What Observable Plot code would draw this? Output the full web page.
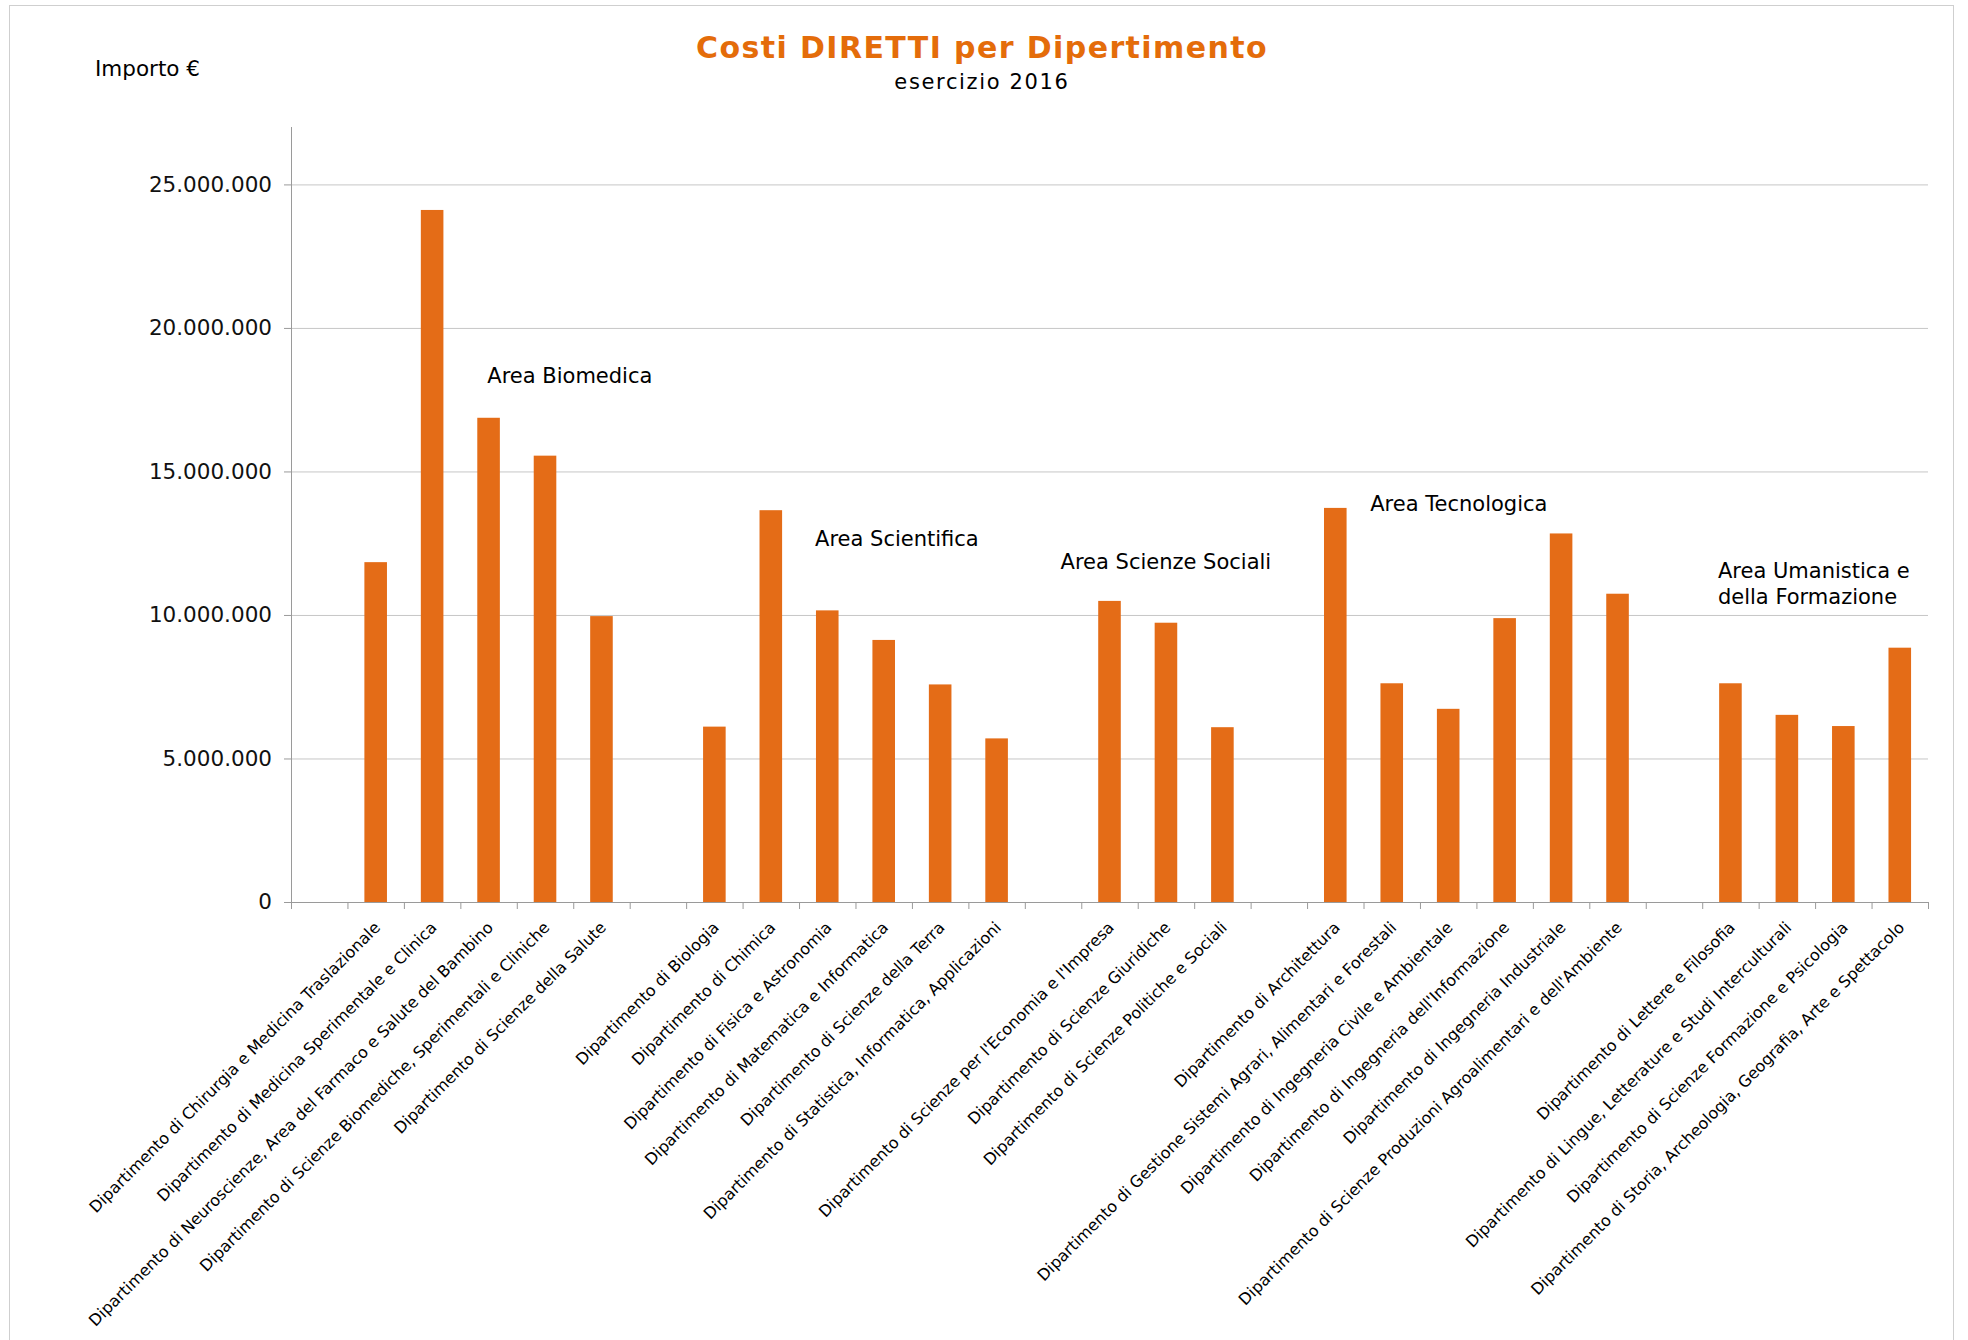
<!DOCTYPE html>
<html>
<head>
<meta charset="utf-8">
<script src="https://cdn.jsdelivr.net/npm/d3@7"></script>
<script src="https://cdn.jsdelivr.net/npm/@observablehq/plot@0.6"></script>
<style>
  html, body { margin: 0; padding: 0; background: #fff; }
  #page { position: relative; width: 1968px; height: 1340px; overflow: hidden; font-family: "DejaVu Sans", sans-serif; }
  #frame { position: absolute; left: 9px; top: 5px; width: 1945px; height: 1400px; border: 1px solid #cfcfcf; box-sizing: border-box; }
  .t { position: absolute; white-space: nowrap; }
  #title { left: 0; width: 1964px; text-align: center; top: 32.6px; font-size: 30px; line-height: 30px; font-weight: bold; letter-spacing: 1.4px; color: #E46C0A; }
  #subtitle { left: 0; width: 1964px; text-align: center; top: 71.5px; font-size: 21px; line-height: 21px; letter-spacing: 1.65px; color: #000; }
  #ylabel { left: 95px; top: 58px; font-size: 21.5px; line-height: 21.5px; color: #000; }
  #chart { position: absolute; left: 0; top: 100px; }
</style>
</head>
<body>
<div id="page">
  <div id="frame"></div>
  <div class="t" id="title">Costi DIRETTI per Dipertimento</div>
  <div class="t" id="subtitle">esercizio 2016</div>
  <div class="t" id="ylabel">Importo €</div>
  <div id="chart"></div>
</div>
<script>
// ---- data ----
const areaNames = [
  "Area Biomedica",
  "Area Scientifica",
  "Area Scienze Sociali",
  "Area Tecnologica",
  "Area Umanistica e\ndella Formazione"
];
const dipartimenti = [
  "Dipartimento di Chirurgia e Medicina Traslazionale",
  "Dipartimento di Medicina Sperimentale e Clinica",
  "Dipartimento di Neuroscienze, Area del Farmaco e Salute del Bambino",
  "Dipartimento di Scienze Biomediche, Sperimentali e Cliniche",
  "Dipartimento di Scienze della Salute",
  "Dipartimento di Biologia",
  "Dipartimento di Chimica",
  "Dipartimento di Fisica e Astronomia",
  "Dipartimento di Matematica e Informatica",
  "Dipartimento di Scienze della Terra",
  "Dipartimento di Statistica, Informatica, Applicazioni",
  "Dipartimento di Scienze per l'Economia e l'Impresa",
  "Dipartimento di Scienze Giuridiche",
  "Dipartimento di Scienze Politiche e Sociali",
  "Dipartimento di Architettura",
  "Dipartimento di Gestione Sistemi Agrari, Alimentari e Forestali",
  "Dipartimento di Ingegneria Civile e Ambientale",
  "Dipartimento di Ingegneria dell'Informazione",
  "Dipartimento di Ingegneria Industriale",
  "Dipartimento di Scienze Produzioni Agroalimentari e dell'Ambiente",
  "Dipartimento di Lettere e Filosofia",
  "Dipartimento di Lingue, Letterature e Studi Interculturali",
  "Dipartimento di Scienze Formazione e Psicologia",
  "Dipartimento di Storia, Archeologia, Geografia, Arte e Spettacolo"
];
const areaOfDip = [0,0,0,0,0, 1,1,1,1,1,1, 2,2,2, 3,3,3,3,3,3, 4,4,4,4];
const costi = [
  11840000, 24110000, 16870000, 15550000, 9960000,
  6110000, 13650000, 10160000, 9130000, 7580000, 5700000,
  10490000, 9730000, 6090000,
  13730000, 7620000, 6730000, 9890000, 12840000, 10740000,
  7620000, 6520000, 6130000, 8860000
];
const yTicks = [0, 5000000, 10000000, 15000000, 20000000, 25000000];
const yMax = 27000000;
// area label anchor department (label starts near that category) and value level
const areaLabelDip = [
  "Dipartimento di Neuroscienze, Area del Farmaco e Salute del Bambino",
  "Dipartimento di Fisica e Astronomia",
  "__gap2",
  "Dipartimento di Gestione Sistemi Agrari, Alimentari e Forestali",
  "Dipartimento di Lettere e Filosofia"
];
const areaLabelY = [18380000, 12710000, 11910000, 13930000, 11140000];

// ---- build ----
const domain = [];
areaNames.forEach((a, ai) => {
  domain.push("__gap" + ai);
  dipartimenti.forEach((d, i) => { if (areaOfDip[i] === ai) domain.push(d); });
});
const rows = dipartimenti.map((d, i) => ({dip: d, costo: costi[i]}));

const W = 1968, H = 1240, mL = 291, mR = 40, mT = 27, mB = 438;
const step = (W - mL - mR) / domain.length;
const orange = "#E46C17";
const fmt = d3.formatLocale({decimal: ",", thousands: ".", grouping: [3], currency: ["€", ""]}).format(",.0f");
const areaDx = [-1.75, -12.7, 7, -22, -13];

const plot = Plot.plot({
  width: W, height: H,
  marginLeft: mL, marginRight: mR, marginTop: mT, marginBottom: mB,
  style: {fontFamily: "DejaVu Sans", background: "transparent", color: "#000"},
  x: {type: "band", domain, paddingInner: 0.6, paddingOuter: 0.3, align: 0.5, round: false, axis: null},
  y: {domain: [0, yMax], axis: null},
  marks: [
    Plot.gridY(yTicks, {stroke: "#c6c6c6", strokeOpacity: 1}),
    Plot.barY(rows, {x: "dip", y: "costo", fill: orange}),
    // axis lines and category-boundary ticks
    Plot.ruleY([0], {stroke: "#9a9a9a"}),
    Plot.ruleX([domain[0]], {x: d => d, dx: -step / 2, y1: 0, y2: yMax, stroke: "#9a9a9a"}),
    Plot.ruleX(domain, {x: d => d, dx: -step / 2, y1: 0, y2: 0, insetBottom: -7, stroke: "#9a9a9a"}),
    Plot.ruleX([domain[domain.length - 1]], {x: d => d, dx: step / 2, y1: 0, y2: 0, insetBottom: -7, stroke: "#9a9a9a"}),
    Plot.axisY({ticks: yTicks, label: null, tickSize: 7, tickPadding: 12.5, fontSize: 21.5, tickFormat: fmt, stroke: "#9a9a9a", fill: "#111"}),
    // rotated category labels
    Plot.text(dipartimenti, {x: d => d, y: 0, text: d => d, rotate: -45, textAnchor: "end", lineAnchor: "top", dx: -3, dy: 18, fontSize: 16, fill: "#000"}),
    // area annotations
    ...areaNames.map((name, i) => Plot.text([name], {
      x: () => areaLabelDip[i], y: () => areaLabelY[i], text: d => d,
      textAnchor: "start", lineAnchor: "middle", lineHeight: 1.24,
      dx: areaDx[i], fontSize: 21, fill: "#000"
    }))
  ]
});
document.getElementById("chart").appendChild(plot);
</script>
</body>
</html>
